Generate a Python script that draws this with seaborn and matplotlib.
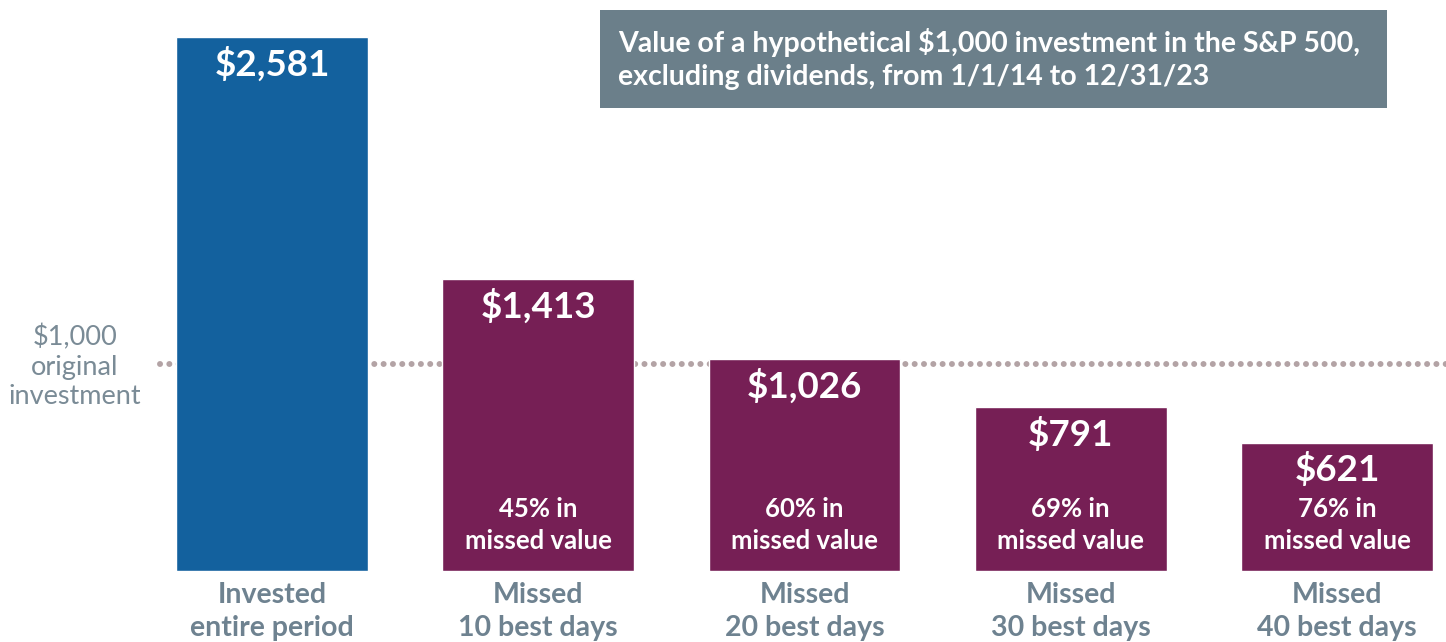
import matplotlib
matplotlib.use("Agg")
import matplotlib.pyplot as plt
import seaborn as sns

categories = ["Invested\nentire period", "Missed\n10 best days", "Missed\n20 best days",
              "Missed\n30 best days", "Missed\n40 best days"]
values = [2581, 1413, 1026, 791, 621]
value_labels = ["$2,581", "$1,413", "$1,026", "$791", "$621"]
missed_labels = ["", "45% in\nmissed value", "60% in\nmissed value",
                 "69% in\nmissed value", "76% in\nmissed value"]
original = 1000

BLUE = "#13619E"
PLUM = "#761F55"
SLATE = "#6B7F8A"
DOTS = "#B3A3A5"

sns.set_theme(style="white")
plt.rcParams["font.family"] = ["Lato", "DejaVu Sans"]

fig = plt.figure(figsize=(14.46, 6.42), dpi=100)
ax = fig.add_axes([0, 71 / 642, 1, 571 / 642])

palette = [BLUE] + [PLUM] * (len(values) - 1)
sns.barplot(x=categories, y=values, hue=categories, palette=palette, width=0.72,
            saturation=1, legend=False, ax=ax, zorder=3)

# dotted reference line for the original investment
ax.plot([-0.42, 4.42], [original, original], color=DOTS, linewidth=4.3,
        linestyle=(0, (0.01, 1.55)), dash_capstyle="round", zorder=1)
ax.annotate("$1,000\noriginal\ninvestment", (-0.74, original), xytext=(0, -2),
            textcoords="offset points", ha="center", va="center",
            fontsize=19.5, color="#7A8B96", linespacing=1.22)

for i, (lab, miss) in enumerate(zip(value_labels, missed_labels)):
    ax.annotate(lab, (i, values[i]), xytext=(0, -19.5), textcoords="offset points",
                ha="center", va="center", fontsize=26.5, fontweight="bold", color="white", zorder=4)
    if miss:
        ax.annotate(miss, (i, 0), xytext=(0, 33), textcoords="offset points",
                    ha="center", va="center", fontsize=18.5, fontweight="bold",
                    color="white", linespacing=1.4, zorder=4)

ax.set_xlim(-272 / 266.25, (1446 - 272) / 266.25)
ax.set_ylim(0, 571 / 0.2069)
ax.set_xticks(range(len(categories)))
ax.set_xticklabels(categories, fontsize=20.5, fontweight="bold", color="#6E8290", linespacing=1.32)
ax.tick_params(axis="x", length=0, pad=8)
ax.set_yticks([])
ax.set_xlabel("")
ax.set_ylabel("")
sns.despine(ax=ax, left=True, bottom=True)

fig.text(618 / 1446, 1 - 59 / 642,
         "Value of a hypothetical $1,000 investment in the S&P 500,\n"
         "excluding dividends, from 1/1/14 to 12/31/23",
         ha="left", va="center", fontsize=20.5, fontweight="bold", color="white",
         linespacing=1.3)
fig.patches.append(plt.Rectangle((600 / 1446, 1 - 108 / 642), 787 / 1446, 98 / 642,
                                 transform=fig.transFigure, facecolor=SLATE,
                                 edgecolor="none", zorder=0))

fig.savefig("out.png", dpi=100)
